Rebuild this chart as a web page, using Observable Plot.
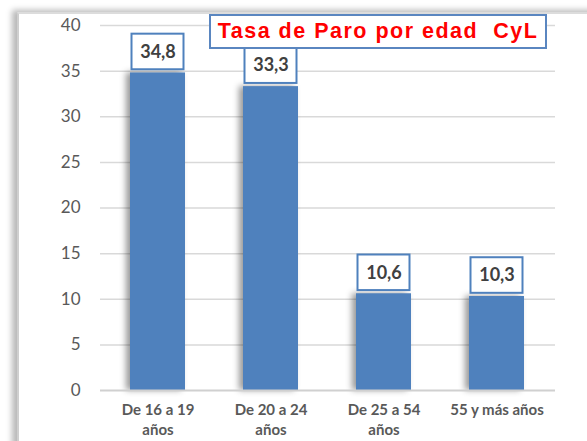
<!DOCTYPE html>
<html>
<head>
<meta charset="utf-8">
<script src="https://cdn.jsdelivr.net/npm/d3@7"></script>
<script src="https://cdn.jsdelivr.net/npm/@observablehq/plot@0.6"></script>
<style>
  html, body { margin: 0; padding: 0; background: #fff; }
  #wrap { position: relative; width: 587px; height: 441px; overflow: hidden; background: #fff; }
  #frame { position: absolute; left: 17px; top: 12px; width: 700px; height: 600px;
           border-left: 2px solid #cfcfcf; border-top: 2px solid #dcdcdc;
           box-shadow: -5px -2px 6px rgba(0,0,0,0.28); background: #fff; }
  #chart { position: absolute; left: 0; top: 0; }
  #title { position: absolute; left: 209px; top: 14px; width: 334px; height: 31px;
           border: 2px solid #5a86c0; background: #fff; color: #ff0000;
           font: bold 21.5px "Liberation Sans", Arial, sans-serif; white-space: pre;
           letter-spacing: 1.5px; line-height: 31px; text-align: center; box-sizing: content-box; }
  .bars rect { filter: drop-shadow(-4px 0px 3px rgba(0,0,0,0.4)); }
</style>
</head>
<body>
<div id="wrap">
  <div id="frame"></div>
  <div id="chart"></div>
  <div id="title">Tasa de Paro por edad  CyL</div>
</div>
<script>
const categories = ["De 16 a 19 años", "De 20 a 24 años", "De 25 a 54 años", "55 y más años"];
const tickLabels = ["De 16 a 19\naños", "De 20 a 24\naños", "De 25 a 54\naños", "55 y más años"];
const values = [34.8, 33.3, 10.6, 10.3];
const valueLabels = ["34,8", "33,3", "10,6", "10,3"];
const yTicks = [0, 5, 10, 15, 20, 25, 30, 35, 40];

const data = categories.map((c, i) => ({cat: c, value: values[i], label: valueLabels[i]}));
const labelOf = new Map(categories.map((c, i) => [c, tickLabels[i]]));

const chart = Plot.plot({
  width: 587,
  height: 441,
  marginLeft: 100,
  marginRight: 32,
  marginTop: 25,
  marginBottom: 51,
  style: {fontFamily: "Lato, 'Open Sans', sans-serif", background: "transparent"},
  x: {domain: categories, paddingInner: 0.51, paddingOuter: 0.255, label: null},
  y: {domain: [0, 40], label: null},
  marks: [
    Plot.ruleY(yTicks.filter(d => d > 0), {stroke: "#d9d9d9", strokeWidth: 1.5}),
    Plot.axisY({ticks: yTicks, tickSize: 0, tickPadding: 20, fontSize: 17, fill: "#595959", label: null}),
    Plot.axisX({tickSize: 0, tickPadding: 11, fontSize: 15, fontWeight: "bold", fill: "#595959",
                lineHeight: 1.3, tickFormat: d => labelOf.get(d), label: null}),
    Plot.barY(data, {x: "cat", y: "value", fill: "#4f81bd", className: "bars"}),
    Plot.ruleY([0], {stroke: "#d0d0d0", strokeWidth: 2}),
    Plot.barY(data, {x: "cat", y1: d => d.value + 0.35, y2: d => d.value + 4.25,
                     fill: "white", stroke: "#4f81bd", strokeWidth: 2, insetLeft: 1.5, insetRight: 1.5}),
    Plot.text(data, {x: "cat", y: d => d.value + 2.3, text: "label", fontSize: 18, fontWeight: "bold",
                     fill: "#404040", lineAnchor: "middle"})
  ]
});
document.getElementById("chart").appendChild(chart);
</script>
</body>
</html>
